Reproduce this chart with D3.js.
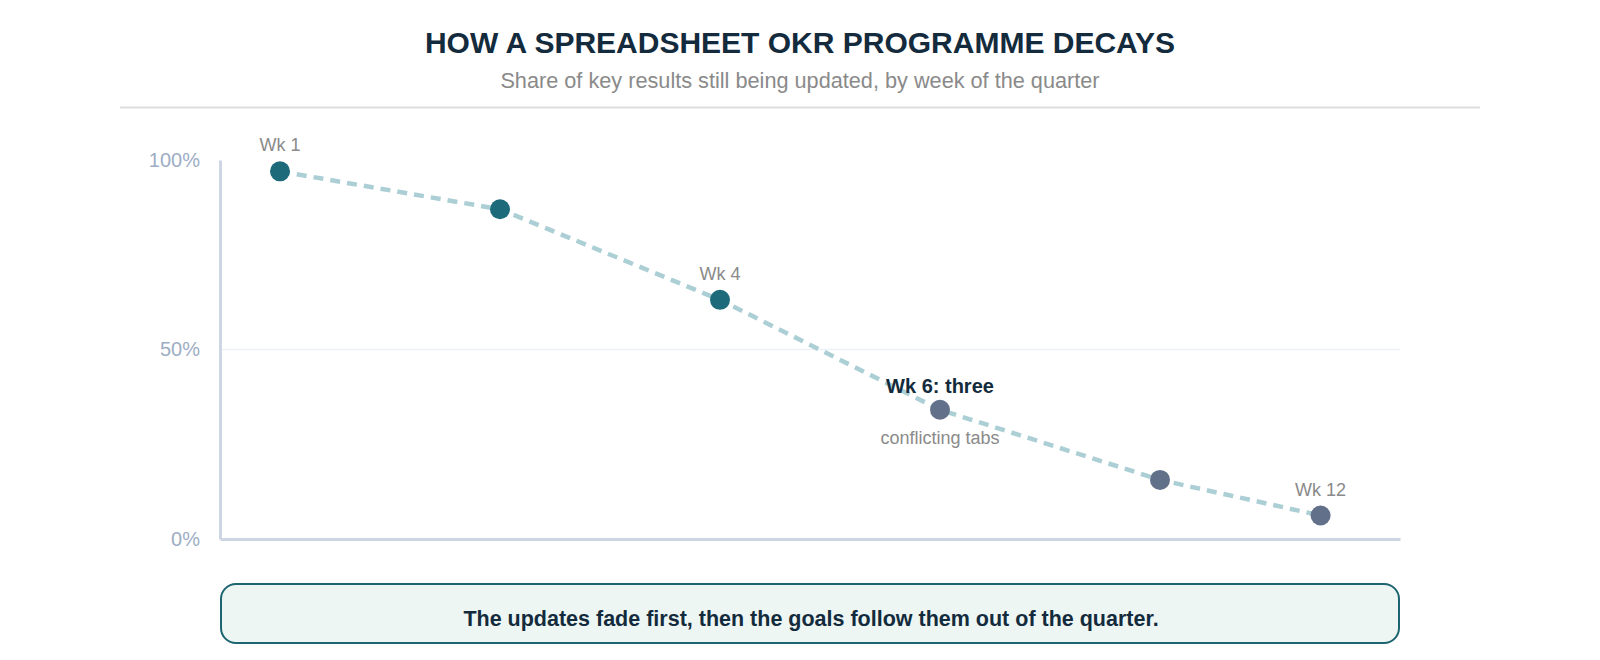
<!DOCTYPE html>
<html>
<head>
<meta charset="utf-8">
<script src="https://cdn.jsdelivr.net/npm/d3@7"></script>
<style>
    body { margin: 0; background: #fff; font-family: "Liberation Sans", Arial, sans-serif; }
</style>
</head>
<body>
<div class="chart-container"></div>
<script>
// data
const weekLabels = ['Wk 1', '', 'Wk 4', 'Wk 6', '', 'Wk 12'];
const weekSteps = [0, 1, 2, 3, 4, 4.73]; // position along the quarter
const shareUpdated = [97, 87, 63.1, 34.1, 15.6, 6.2];
const pointGroup = ['early', 'early', 'early', 'late', 'late', 'late'];
const yTicks = [0, 50, 100];
const calloutTitle = 'Wk 6: three';
const calloutSub = 'conflicting tabs';

const data = weekLabels.map((d, i) => ({
    label: d,
    step: weekSteps[i],
    share: shareUpdated[i],
    group: pointGroup[i]
}));

// canvas
const svg_width = 1600;
const svg_height = 660;
const chart_margin = { top: 160, right: 200, bottom: 121, left: 220 };
const chart_width = svg_width - (chart_margin.left + chart_margin.right);
const chart_height = svg_height - (chart_margin.top + chart_margin.bottom);

const svg = d3.select('.chart-container').append('svg')
    .attr('width', svg_width).attr('height', svg_height);

// header
svg.append('text')
    .attr('x', 800).attr('y', 53)
    .attr('text-anchor', 'middle')
    .style('font-size', '30px').style('font-weight', 'bold').style('fill', '#132b3c')
    .text('HOW A SPREADSHEET OKR PROGRAMME DECAYS');
svg.append('text')
    .attr('x', 800).attr('y', 88)
    .attr('text-anchor', 'middle')
    .style('font-size', '21.7px').style('fill', '#8a8a8a')
    .text('Share of key results still being updated, by week of the quarter');
svg.append('line')
    .attr('x1', 120).attr('x2', 1480).attr('y1', 107.5).attr('y2', 107.5)
    .style('stroke', '#dedede').style('stroke-width', 2);

const g = svg.append('g')
    .attr('transform', `translate(${chart_margin.left},${chart_margin.top})`);

// scales
const xScale = d3.scaleLinear().domain([0, 5]).range([60, 1160]);
const yScale = d3.scaleLinear().domain([0, 100]).range([chart_height, 0]);

// grid at 50%
g.selectAll('.grid')
    .data(yTicks.filter(d => d > 0 && d < 100))
    .enter().append('line')
    .attr('class', 'grid')
    .attr('x1', 0).attr('x2', chart_width)
    .attr('y1', d => yScale(d)).attr('y2', d => yScale(d))
    .style('stroke', '#eef2f6').style('stroke-width', 1.5);

// axes
const yAxis = d3.axisLeft(yScale).tickValues(yTicks).tickFormat(d => d + '%')
    .tickSize(0).tickPadding(20);
const yAxisDraw = g.append('g').attr('class', 'y axis').call(yAxis);
yAxisDraw.select('.domain').style('stroke', '#cdd6e2').style('stroke-width', 3);
yAxisDraw.selectAll('text')
    .style('font-size', '20px').style('fill', '#9dadc5')
    .style('font-family', '"Liberation Sans", Arial, sans-serif');

const xAxis = d3.axisBottom(xScale.copy().range([0, chart_width])).tickValues([]).tickSizeOuter(0);
const xAxisDraw = g.append('g').attr('class', 'x axis')
    .attr('transform', `translate(0,${chart_height})`).call(xAxis);
xAxisDraw.select('.domain').style('stroke', '#cdd6e2').style('stroke-width', 3);

// line (straight segments)
const line = d3.line()
    .x(d => xScale(d.step))
    .y(d => yScale(d.share));
g.append('path')
    .datum(data)
    .attr('d', line)
    .style('fill', 'none')
    .style('stroke', '#abcfd4')
    .style('stroke-width', 4.5)
    .style('stroke-dasharray', '10,7');

// points
g.selectAll('.dot')
    .data(data)
    .enter().append('circle')
    .attr('class', 'dot')
    .attr('cx', d => xScale(d.step))
    .attr('cy', d => yScale(d.share))
    .attr('r', 10)
    .style('fill', d => d.group === 'early' ? '#1c6a7a' : '#637089');

// week labels (not on the callout point)
g.selectAll('.wk-label')
    .data(data.filter(d => d.label && d.label !== 'Wk 6'))
    .enter().append('text')
    .attr('class', 'wk-label')
    .attr('x', d => xScale(d.step))
    .attr('y', d => yScale(d.share) - 20)
    .attr('text-anchor', 'middle')
    .style('font-size', '18px').style('fill', '#8a8a8a')
    .text(d => d.label);

// callout
const callout = data.find(d => d.label === 'Wk 6');
g.append('text')
    .attr('x', xScale(callout.step))
    .attr('y', yScale(callout.share) - 17)
    .attr('text-anchor', 'middle')
    .style('font-size', '20px').style('font-weight', 'bold').style('fill', '#132b3c')
    .text(calloutTitle);
g.append('text')
    .attr('x', xScale(callout.step))
    .attr('y', yScale(callout.share) + 34)
    .attr('text-anchor', 'middle')
    .style('font-size', '18px').style('fill', '#8a8a8a')
    .text(calloutSub);

// takeaway box
svg.append('rect')
    .attr('x', 221).attr('y', 584)
    .attr('width', 1178).attr('height', 59)
    .attr('rx', 15)
    .style('fill', '#edf6f3').style('stroke', '#1d6571').style('stroke-width', 2);
svg.append('text')
    .attr('x', 811).attr('y', 626)
    .attr('text-anchor', 'middle')
    .style('font-size', '21.5px').style('font-weight', 'bold').style('fill', '#132b3c')
    .text('The updates fade first, then the goals follow them out of the quarter.');
</script>
</body>
</html>
